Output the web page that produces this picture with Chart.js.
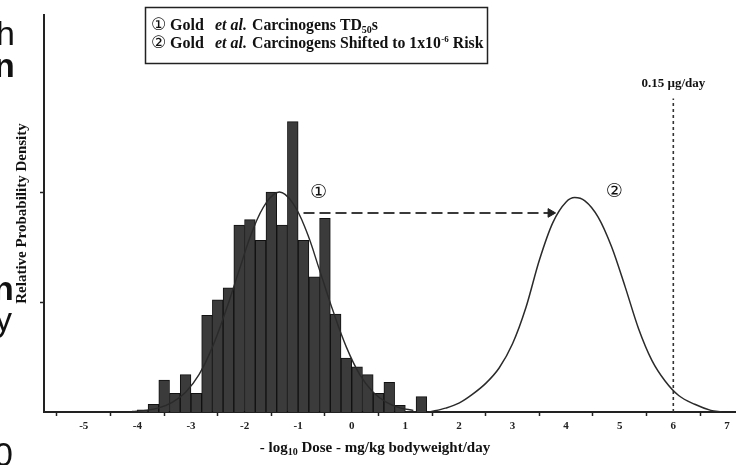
<!DOCTYPE html>
<html><head><meta charset="utf-8">
<script src="https://cdn.jsdelivr.net/npm/chart.js@4/dist/chart.umd.min.js"></script>
<style>
html,body{margin:0;padding:0;background:#fff;}
#wrap{position:relative;width:741px;height:465px;overflow:hidden;background:#fff;}
canvas{position:absolute;left:0;top:0;}
.frag{position:absolute;font-family:"Liberation Sans",Arial,sans-serif;font-size:34px;line-height:34px;color:#111;white-space:nowrap;z-index:2;}
.b{font-weight:bold;}
</style></head><body>
<div id="wrap">
<canvas id="c" width="741" height="465"></canvas>
<span class="frag" style="left:-4px;top:16px">h</span>
<span class="frag b" style="left:-6px;top:48px">n</span>
<span class="frag b" style="left:-7px;top:271px">n</span>
<span class="frag" style="left:-5px;top:302px">y</span>
<span class="frag" style="left:-6px;top:437px">0</span>
</div>
<script>
// Histogram of Gold et al. carcinogen TD50s (bin centres, width 0.2)
const binCenters = [-3.9,-3.7,-3.5,-3.3,-3.1,-2.9,-2.7,-2.5,-2.3,-2.1,-1.9,-1.7,-1.5,-1.3,-1.1,-0.9,-0.7,-0.5,-0.3,-0.1,0.1,0.3,0.5,0.7,0.9,1.1,1.3];
const binHeights = [0.02,0.07,0.29,0.17,0.34,0.17,0.88,1.02,1.13,1.70,1.75,1.56,2.00,1.70,2.64,1.56,1.23,1.76,0.89,0.49,0.41,0.34,0.17,0.27,0.06,0,0.14];
// Curve 1: fitted density over histogram
const fitX = [-4.1,-3.85,-3.6,-3.35,-3.1,-2.85,-2.6,-2.35,-2.1,-1.85,-1.6,-1.35,-1.1,-0.85,-0.6,-0.35,-0.1,0.15,0.4,0.65,0.9,1.15];
const fitY = [0.005,0.015,0.038,0.088,0.18,0.34,0.59,0.92,1.29,1.65,1.90,2.00,1.90,1.65,1.29,0.92,0.59,0.34,0.18,0.088,0.038,0.015];
// Curve 2: shifted to 1x10^-6 risk
const shiftX = [1.45,1.75,2.0,2.25,2.5,2.75,3.0,3.25,3.5,3.75,4.0,4.16,4.35,4.6,4.85,5.1,5.35,5.6,5.85,6.1,6.4,6.7,6.9];
const shiftY = [0,0.035,0.08,0.16,0.26,0.40,0.62,0.95,1.38,1.72,1.91,1.95,1.92,1.77,1.5,1.14,0.76,0.47,0.28,0.15,0.07,0.015,0];
// Shift arrow and 0.15 ug/day line
const arrowX = [-0.9, 3.71];
const arrowY = [1.81, 1.81];
const limitX = [6, 6];
const limitY = [0, 2.85];
const xTicks = [-5,-4,-3,-2,-1,0,1,2,3,4,5,6,7];
const yTicks = [1,2];
const curveLabels = [{t:'\u2460', x:-0.62, y:1.99}, {t:'\u2461', x:4.9, y:2.0}];
const limitLabel = {t:'0.15 \u00b5g/day', x:6, y:2.99};
const xTitle = ['- log', '10', ' Dose - mg/kg bodyweight/day'];
const yTitle = 'Relative Probability Density';
const legendLines = [
  {num:'\u2460', a:'Gold', b:'et al.', c:'Carcinogens TD', sub:'50', d:'s'},
  {num:'\u2461', a:'Gold', b:'et al.', c:'Carcinogens Shifted to 1x10', sup:'-6', d:' Risk'}
];

const SERIF = '"Liberation Serif", "Times New Roman", serif';
const INK = '#222';

const textPlugin = {
  id: 'textPlugin',
  afterDraw(chart) {
    const ctx = chart.ctx;
    const xs = chart.scales.x, ys = chart.scales.y;
    ctx.save();
    ctx.fillStyle = '#111';
    ctx.textBaseline = 'alphabetic';
    // legend box
    ctx.strokeStyle = '#222';
    ctx.lineWidth = 1.5;
    ctx.strokeRect(145.5, 7.5, 342, 56);
    legendLines.forEach((L, i) => {
      const base = 30 + i * 18;
      ctx.font = '17px "DejaVu Sans", sans-serif';
      ctx.fillText(L.num, 151, base);
      ctx.font = 'bold 16px ' + SERIF;
      ctx.fillText(L.a, 170, base);
      ctx.font = 'italic bold 16px ' + SERIF;
      ctx.fillText(L.b, 215, base);
      ctx.font = 'bold 15.8px ' + SERIF;
      let x = 252;
      ctx.fillText(L.c, x, base);
      x += ctx.measureText(L.c).width;
      if (L.sub) {
        ctx.font = 'bold 10px ' + SERIF;
        ctx.fillText(L.sub, x, base + 3);
        x += ctx.measureText(L.sub).width;
      }
      if (L.sup) {
        ctx.font = 'bold 9px ' + SERIF;
        ctx.fillText(L.sup, x + 0.5, base - 6);
        x += ctx.measureText(L.sup).width + 0.5;
      }
      ctx.font = 'bold 15.8px ' + SERIF;
      ctx.fillText(L.d, x, base);
    });
    // curve labels
    ctx.textAlign = 'center';
    ctx.textBaseline = 'middle';
    ctx.font = '19px "DejaVu Sans", sans-serif';
    curveLabels.forEach(l => {
      ctx.fillText(l.t, xs.getPixelForValue(l.x), ys.getPixelForValue(l.y));
    });
    ctx.font = 'bold 13px ' + SERIF;
    ctx.fillText(limitLabel.t, xs.getPixelForValue(limitLabel.x), ys.getPixelForValue(limitLabel.y));
    // x axis title
    ctx.textAlign = 'left';
    ctx.textBaseline = 'alphabetic';
    const f1 = 'bold 15px ' + SERIF, f2 = 'bold 10px ' + SERIF;
    ctx.font = f1; const w0 = ctx.measureText(xTitle[0]).width, w2 = ctx.measureText(xTitle[2]).width;
    ctx.font = f2; const w1 = ctx.measureText(xTitle[1]).width;
    let x0 = 375 - (w0 + w1 + w2) / 2;
    const yb = 452;
    ctx.font = f1; ctx.fillText(xTitle[0], x0, yb); x0 += w0;
    ctx.font = f2; ctx.fillText(xTitle[1], x0, yb + 3); x0 += w1;
    ctx.font = f1; ctx.fillText(xTitle[2], x0, yb);
    ctx.restore();
  }
};

new Chart(document.getElementById('c'), {
  type: 'bar',
  data: {
    datasets: [
      {
        type: 'bar', order: 5,
        data: binCenters.map((x, i) => ({x: x, y: binHeights[i]})),
        backgroundColor: '#3b3b3b', borderColor: '#111', borderWidth: 1,
        barPercentage: 1, categoryPercentage: 1, grouped: false
      },
      {
        type: 'line', order: 1,
        data: fitX.map((x, i) => ({x: x, y: fitY[i]})),
        borderColor: '#2a2a2a', borderWidth: 1.4, pointRadius: 0, tension: 0.4, fill: false
      },
      {
        type: 'line', order: 1,
        data: shiftX.map((x, i) => ({x: x, y: shiftY[i]})),
        borderColor: '#2a2a2a', borderWidth: 1.5, pointRadius: 0, cubicInterpolationMode: 'monotone', fill: false
      },
      {
        type: 'line', order: 1,
        data: arrowX.map((x, i) => ({x: x, y: arrowY[i]})),
        borderColor: '#3a3a3a', borderWidth: 2, borderDash: [11, 5],
        pointRadius: [0, 5], pointStyle: 'triangle', rotation: 90,
        pointBackgroundColor: '#222', pointBorderColor: '#222', pointBorderWidth: 1, fill: false
      },
      {
        type: 'line', order: 1,
        data: limitX.map((x, i) => ({x: x, y: limitY[i]})),
        borderColor: '#333', borderWidth: 1.6, borderDash: [3, 3], pointRadius: 0, fill: false
      }
    ]
  },
  options: {
    responsive: false,
    animation: false,
    events: [],
    layout: {padding: {top: 15, left: 0, right: 0, bottom: 0}},
    plugins: {legend: {display: false}, tooltip: {enabled: false}},
    scales: {
      x: {
        type: 'linear', min: -5.742, max: 7.151, offset: false,
        afterBuildTicks: s => { s.ticks = xTicks.map(v => ({value: v})); },
        afterFit: s => { s.height = 53; },
        border: {display: true, color: INK, width: 2},
        grid: {drawOnChartArea: false, drawTicks: true, tickLength: 4, tickColor: INK, tickWidth: 1.5},
        ticks: {color: INK, font: {family: SERIF, weight: 'bold', size: 11}, padding: 4, maxRotation: 0, autoSkip: false}
      },
      y: {
        type: 'linear', min: 0, max: 3.61,
        afterBuildTicks: s => { s.ticks = yTicks.map(v => ({value: v})); },
        afterFit: s => { s.width = 44; },
        border: {display: true, color: INK, width: 2},
        grid: {drawOnChartArea: false, drawTicks: true, tickLength: 4, tickColor: INK, tickWidth: 1.5},
        ticks: {display: false},
        title: {display: true, text: yTitle, color: '#111', font: {family: SERIF, weight: 'bold', size: 15}, padding: {top: 13, bottom: 0}}
      }
    }
  },
  plugins: [textPlugin]
});
</script>
</body></html>
